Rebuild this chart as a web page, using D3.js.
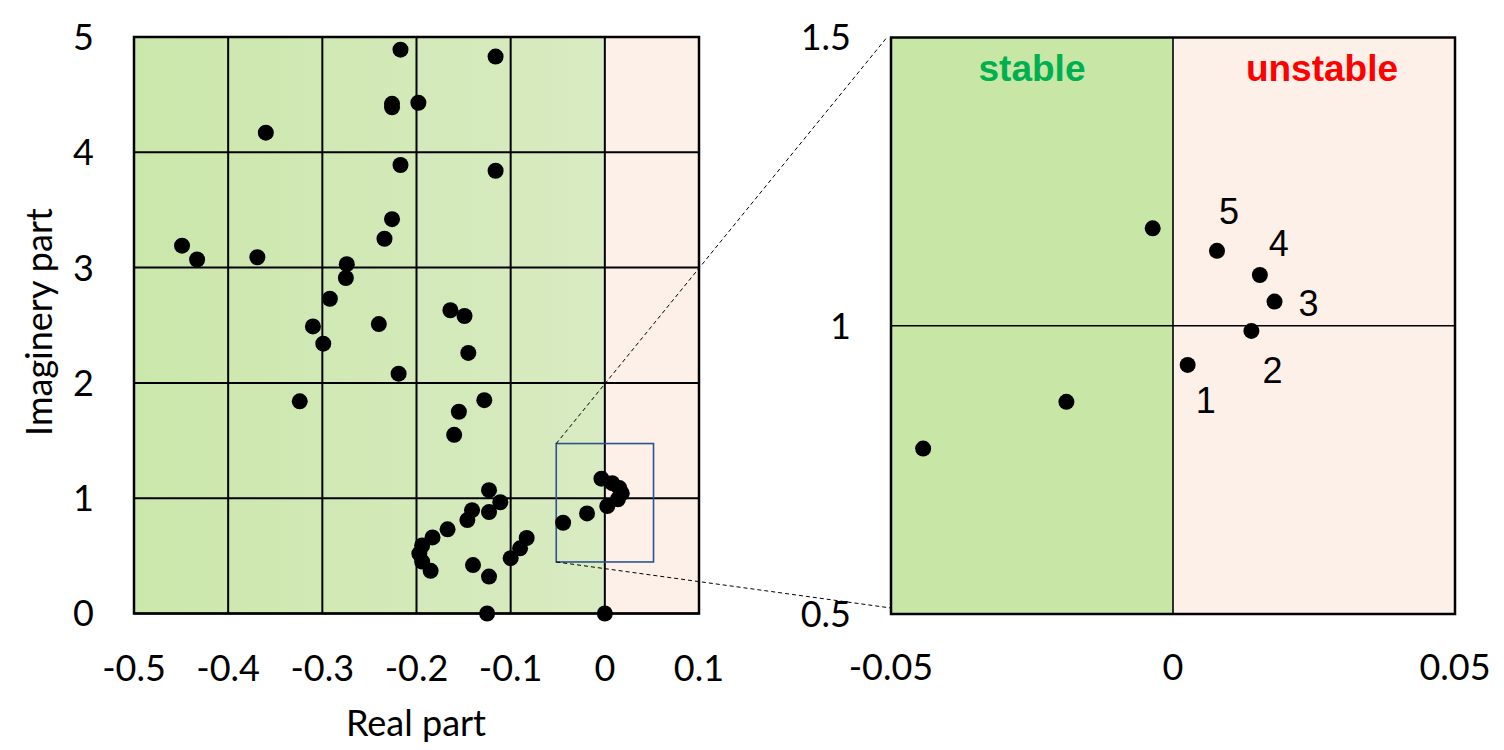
<!DOCTYPE html>
<html>
<head>
<meta charset="utf-8">
<script src="https://cdn.jsdelivr.net/npm/d3@7"></script>
<style>
  html, body { margin: 0; padding: 0; background: #ffffff; }
  svg { display: block; }
  .tick-label { font-family: Lato, "Open Sans", sans-serif; font-size: 36px; fill: #000; }
  .axis-title { font-family: Lato, "Open Sans", sans-serif; font-size: 36px; fill: #000; }
  .num-label { font-family: "Liberation Sans", Arial, sans-serif; font-size: 36px; fill: #000; }
  .region-label { font-family: "Liberation Sans", Arial, sans-serif; font-size: 37px; font-weight: bold; }
</style>
</head>
<body>
<svg id="chart" width="1504" height="750"></svg>
<script>
// ---------------- data ----------------
const realParts = [
  -0.217, -0.116, -0.226, -0.226, -0.198, -0.360, -0.217, -0.116, -0.226, -0.234,
  -0.449, -0.433, -0.369, -0.274, -0.275, -0.292, -0.310, -0.240, -0.164, -0.149,
  -0.299, -0.145, -0.219, -0.324, -0.128, -0.155, -0.160, -0.123, -0.111, -0.141,
  -0.123, -0.146, -0.167, -0.183, -0.194, -0.197, -0.194, -0.185, -0.140, -0.123,
  -0.083, -0.090, -0.100, -0.125, 0.000,
  -0.0443, -0.0189, -0.0036, 0.0026, 0.0139, 0.0180, 0.0154, 0.0078
];
const imagParts = [
  4.89, 4.83, 4.42, 4.39, 4.43, 4.17, 3.89, 3.84, 3.42, 3.25,
  3.19, 3.07, 3.09, 3.03, 2.91, 2.73, 2.49, 2.51, 2.63, 2.58,
  2.34, 2.26, 2.08, 1.84, 1.85, 1.75, 1.55, 1.07, 0.965, 0.896,
  0.88, 0.81, 0.73, 0.66, 0.59, 0.52, 0.45, 0.37, 0.42, 0.32,
  0.655, 0.565, 0.48, 0.00, 0.00,
  0.787, 0.868, 1.169, 0.932, 0.991, 1.042, 1.088, 1.130
];
// numbered unstable modes (index into the arrays above) and label offsets in px
const modeIndex  = [48, 49, 50, 51, 52];
const modeNames  = ["1", "2", "3", "4", "5"];
const modeDx     = [8, 11, 24, 9, 2];
const modeDy     = [48, 52, 14, -19, -27];

const leftXTicks  = [-0.5, -0.4, -0.3, -0.2, -0.1, 0, 0.1];
const leftXLabels = ["-0.5", "-0.4", "-0.3", "-0.2", "-0.1", "0", "0.1"];
const leftYTicks  = [0, 1, 2, 3, 4, 5];
const leftYLabels = ["0", "1", "2", "3", "4", "5"];
const rightXTicks  = [-0.05, 0, 0.05];
const rightXLabels = ["-0.05", "0", "0.05"];
const rightYTicks  = [0.5, 1, 1.5];
const rightYLabels = ["0.5", "1", "1.5"];
// highlighted box drawn on the left plot (as placed in the picture)
const zoomBox = { x0: -0.0516, x1: 0.0517, y0: 0.447, y1: 1.474 };

const points = realParts.map((r, i) => ({ re: r, im: imagParts[i] }));

// ---------------- setup ----------------
const svg = d3.select("#chart");
const defs = svg.append("defs");
const grad = defs.append("linearGradient").attr("id", "greenGrad")
  .attr("x1", "0%").attr("x2", "100%").attr("y1", "0%").attr("y2", "0%");
grad.append("stop").attr("offset", "0%").attr("stop-color", "#cbe7ab");
grad.append("stop").attr("offset", "100%").attr("stop-color", "#d9ebc2");

const GREEN_R = "#c8e6a6";
const PINK = "#fcf0e8";

// ---------------- left plot ----------------
const xL = d3.scaleLinear().domain([-0.5, 0.1]).range([134, 699]);
const yL = d3.scaleLinear().domain([0, 5]).range([613.5, 37]);
const L = svg.append("g");

L.append("rect").attr("x", xL(-0.5)).attr("y", yL(5))
  .attr("width", xL(0) - xL(-0.5)).attr("height", yL(0) - yL(5))
  .attr("fill", "url(#greenGrad)");
L.append("rect").attr("x", xL(0)).attr("y", yL(5))
  .attr("width", xL(0.1) - xL(0)).attr("height", yL(0) - yL(5))
  .attr("fill", PINK);

// grid
L.selectAll("line.vg").data(leftXTicks).join("line")
  .attr("x1", d => xL(d)).attr("x2", d => xL(d))
  .attr("y1", yL(0)).attr("y2", yL(5))
  .attr("stroke", "#000").attr("stroke-width", 2);
L.selectAll("line.hg").data(leftYTicks).join("line")
  .attr("x1", xL(-0.5)).attr("x2", xL(0.1))
  .attr("y1", d => yL(d)).attr("y2", d => yL(d))
  .attr("stroke", "#000").attr("stroke-width", 2);
L.append("rect").attr("x", xL(-0.5)).attr("y", yL(5))
  .attr("width", xL(0.1) - xL(-0.5)).attr("height", yL(0) - yL(5))
  .attr("fill", "none").attr("stroke", "#000").attr("stroke-width", 2.5);

// zoom box
L.append("rect").attr("x", xL(zoomBox.x0)).attr("y", yL(zoomBox.y1))
  .attr("width", xL(zoomBox.x1) - xL(zoomBox.x0)).attr("height", yL(zoomBox.y0) - yL(zoomBox.y1))
  .attr("fill", "none").attr("stroke", "#2f528f").attr("stroke-width", 1.6);

// dots
L.selectAll("circle").data(points).join("circle")
  .attr("cx", d => xL(d.re)).attr("cy", d => yL(d.im)).attr("r", 8).attr("fill", "#000");

// tick labels
L.selectAll("text.xt").data(leftXTicks).join("text").attr("class", "tick-label")
  .attr("x", d => xL(d)).attr("y", 681).attr("text-anchor", "middle")
  .text((d, i) => leftXLabels[i]);
L.selectAll("text.yt").data(leftYTicks).join("text").attr("class", "tick-label")
  .attr("x", 94).attr("y", d => yL(d)).attr("dy", "0.36em").attr("text-anchor", "end")
  .text((d, i) => leftYLabels[i]);

L.append("text").attr("class", "axis-title").attr("x", 416).attr("y", 736)
  .attr("text-anchor", "middle").text("Real part");
L.append("text").attr("class", "axis-title")
  .attr("transform", "translate(52,322) rotate(-90)")
  .attr("text-anchor", "middle").text("Imaginery part");

// ---------------- right plot ----------------
const xR = d3.scaleLinear().domain([-0.05, 0.05]).range([891, 1455]);
const yR = d3.scaleLinear().domain([0.5, 1.5]).range([614, 37.5]);
const R = svg.append("g");

// connector dashed lines
const conn = svg.append("g");
conn.append("line").attr("x1", xL(zoomBox.x0)).attr("y1", yL(zoomBox.y1))
  .attr("x2", xR(-0.05) - 5).attr("y2", yR(1.5) + 1)
  .attr("stroke", "#000").attr("stroke-width", 1).attr("stroke-dasharray", "4,3");
conn.append("line").attr("x1", xL(zoomBox.x0)).attr("y1", yL(zoomBox.y0))
  .attr("x2", xR(-0.05)).attr("y2", yR(0.5) - 6)
  .attr("stroke", "#000").attr("stroke-width", 1).attr("stroke-dasharray", "4,3");

R.append("rect").attr("x", xR(-0.05)).attr("y", yR(1.5))
  .attr("width", xR(0) - xR(-0.05)).attr("height", yR(0.5) - yR(1.5)).attr("fill", GREEN_R);
R.append("rect").attr("x", xR(0)).attr("y", yR(1.5))
  .attr("width", xR(0.05) - xR(0)).attr("height", yR(0.5) - yR(1.5)).attr("fill", PINK);

R.append("line").attr("x1", xR(0)).attr("x2", xR(0)).attr("y1", yR(0.5)).attr("y2", yR(1.5))
  .attr("stroke", "#000").attr("stroke-width", 1.6);
R.append("line").attr("x1", xR(-0.05)).attr("x2", xR(0.05)).attr("y1", yR(1)).attr("y2", yR(1))
  .attr("stroke", "#000").attr("stroke-width", 1.6);
R.append("rect").attr("x", xR(-0.05)).attr("y", yR(1.5))
  .attr("width", xR(0.05) - xR(-0.05)).attr("height", yR(0.5) - yR(1.5))
  .attr("fill", "none").attr("stroke", "#000").attr("stroke-width", 2.5);

const [rx0, rx1] = xR.domain(), [ry0, ry1] = yR.domain();
const inZoom = points.filter(p => p.re >= rx0 && p.re <= rx1 && p.im >= ry0 && p.im <= ry1);
R.selectAll("circle").data(inZoom).join("circle")
  .attr("cx", d => xR(d.re)).attr("cy", d => yR(d.im)).attr("r", 8).attr("fill", "#000");

R.selectAll("text.mode").data(modeIndex).join("text").attr("class", "num-label")
  .attr("x", (d, i) => xR(points[d].re) + modeDx[i])
  .attr("y", (d, i) => yR(points[d].im) + modeDy[i])
  .text((d, i) => modeNames[i]);

R.append("text").attr("class", "region-label").attr("fill", "#00b050")
  .attr("x", (xR(-0.05) + xR(0)) / 2).attr("y", 81).attr("text-anchor", "middle").text("stable");
R.append("text").attr("class", "region-label").attr("fill", "#ff0000")
  .attr("x", (xR(0) + xR(0.05)) / 2 + 8).attr("y", 81).attr("text-anchor", "middle").text("unstable");

R.selectAll("text.xt").data(rightXTicks).join("text").attr("class", "tick-label")
  .attr("x", d => xR(d)).attr("y", 680).attr("text-anchor", "middle")
  .text((d, i) => rightXLabels[i]);
R.selectAll("text.yt").data(rightYTicks).join("text").attr("class", "tick-label")
  .attr("x", 851).attr("y", d => yR(d)).attr("dy", "0.36em").attr("text-anchor", "end")
  .text((d, i) => rightYLabels[i]);
</script>
</body>
</html>
